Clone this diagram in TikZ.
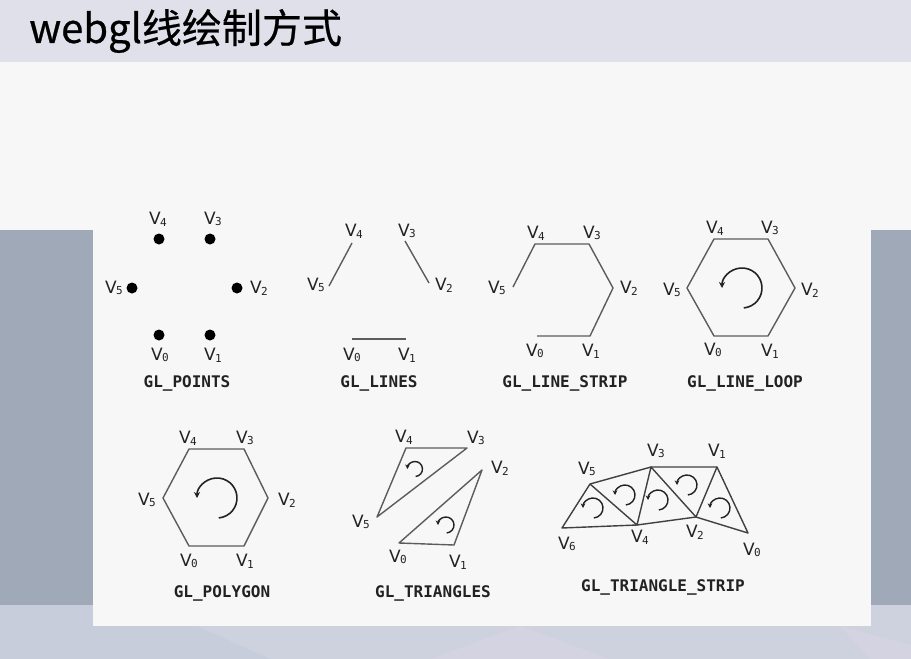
\documentclass[tikz,border=0pt]{standalone}
\usepackage{fontspec}
\setmainfont{DejaVu Sans}
\newfontfamily\cjkfont[FakeBold=0.6]{Noto Sans CJK SC}
\newfontfamily\monofont{DejaVu Sans Mono}
\usetikzlibrary{arrows.meta, positioning, calc}
\definecolor{titlebar}{HTML}{E0E0EA}
\definecolor{paper}{HTML}{F7F7F7}
\definecolor{band}{HTML}{A0A9B8}
\definecolor{floor}{HTML}{CDD2DE}
\definecolor{floordark}{HTML}{C7CDDA}
\definecolor{floorlight}{HTML}{D3D3E2}
\definecolor{edge}{HTML}{5C5C5C}
\definecolor{ink}{HTML}{222222}

\newcommand{\vtx}[1]{V\kern-0.6pt\raisebox{-1.6pt}{\monofont\fontsize{11}{11}\selectfont #1}}

\begin{document}
\begin{tikzpicture}[
    x=1pt, y=-1pt,
    vlab/.style={font=\fontsize{17}{17}\selectfont, text=ink, inner sep=0pt},
    mode/.style={font=\monofont\bfseries\fontsize{16}{16}\selectfont, text=ink, inner sep=0pt},
    wire/.style={edge, line width=1.4pt, line join=round},
    dot/.style={circle, fill=black, inner sep=0pt, minimum size=11pt},
    turn/.style={-{Stealth[length=6pt, width=6pt]}, line width=1.6pt, ink},
    turnsmall/.style={-{Stealth[length=4.5pt, width=4.5pt]}, line width=1.4pt, ink},
]
\useasboundingbox (0,0) rectangle (911,659);

% Background
\fill[floor] (0,605) rectangle (911,659);
\fill[floordark] (0,605) -- (150,605) -- (270,659) -- (0,659) -- cycle;
\fill[floorlight] (430,659) -- (520,626) -- (610,659) -- cycle;
\fill[floorlight] (840,626) -- (911,645) -- (911,659) -- (870,659) -- cycle;
\fill[band] (0,230) rectangle (911,605);
\fill[paper] (0,62) rectangle (911,230);
\fill[paper] (93,62) rectangle (871,626);
\fill[titlebar] (0,0) rectangle (911,62);

% Title
\node[anchor=west, inner sep=0pt, font=\cjkfont\fontsize{40}{40}\selectfont, text=black] (title) at (29,31) {webgl线绘制方式};

% --- GL_POINTS ---
\node[dot] (p4) at (159,239) {};
\node[dot] (p3) at (210,239) {};
\node[dot] (p5) at (132,288) {};
\node[dot] (p2) at (237,288) {};
\node[dot] (p0) at (159,335) {};
\node[dot] (p1) at (210,335) {};
\node[vlab] (p4l) at (158,219) {\vtx{4}};
\node[vlab] (p3l) at (213,219) {\vtx{3}};
\node[vlab] (p5l) at (114,288) {\vtx{5}};
\node[vlab] (p2l) at (259,288) {\vtx{2}};
\node[vlab] (p0l) at (160,355) {\vtx{0}};
\node[vlab] (p1l) at (213,355) {\vtx{1}};
\node[mode] (points) at (187,383) {GL\_POINTS};

% --- GL_LINES ---
\coordinate (n4) at (352,243);
\coordinate (n5) at (329,286);
\coordinate (n3) at (405,241);
\coordinate (n2) at (429,283);
\coordinate (n0) at (352,339);
\coordinate (n1) at (406,339);
\draw[wire] (n4) -- (n5);
\draw[wire] (n3) -- (n2);
\draw[wire] (n0) -- (n1);
\node[vlab] (n4l) at (354,231) {\vtx{4}};
\node[vlab] (n3l) at (407,231) {\vtx{3}};
\node[vlab] (n5l) at (316,285) {\vtx{5}};
\node[vlab] (n2l) at (444,285) {\vtx{2}};
\node[vlab] (n0l) at (352,355) {\vtx{0}};
\node[vlab] (n1l) at (407,355) {\vtx{1}};
\node[mode] (lines) at (379,383) {GL\_LINES};

% --- GL_LINE_STRIP ---
\coordinate (s5) at (513,287);
\coordinate (s4) at (535,244);
\coordinate (s3) at (589,244);
\coordinate (s2) at (613,288);
\coordinate (s1) at (590,336);
\coordinate (s0) at (537,336);
\draw[wire] (s5) -- (s4) -- (s3) -- (s2) -- (s1) -- (s0);
\node[vlab] (s4l) at (536,233) {\vtx{4}};
\node[vlab] (s3l) at (592,233) {\vtx{3}};
\node[vlab] (s5l) at (497,288) {\vtx{5}};
\node[vlab] (s2l) at (629,288) {\vtx{2}};
\node[vlab] (s0l) at (535,351) {\vtx{0}};
\node[vlab] (s1l) at (591,351) {\vtx{1}};
\node[mode] (strip) at (565,383) {GL\_LINE\_STRIP};

% --- GL_LINE_LOOP ---
\coordinate (l0) at (714,336);
\coordinate (l1) at (768,336);
\coordinate (l2) at (795,288);
\coordinate (l3) at (768,239);
\coordinate (l4) at (714,239);
\coordinate (l5) at (687,288);
\coordinate (lc) at (742,288);
\draw[wire] (l0) -- (l1) -- (l2) -- (l3) -- (l4) -- (l5) -- cycle;
\draw[turn] (lc) ++(85:20) arc[start angle=85, end angle=-180, radius=20];
\node[vlab] (l4l) at (715,228) {\vtx{4}};
\node[vlab] (l3l) at (770,228) {\vtx{3}};
\node[vlab] (l5l) at (672,290) {\vtx{5}};
\node[vlab] (l2l) at (810,290) {\vtx{2}};
\node[vlab] (l0l) at (713,350) {\vtx{0}};
\node[vlab] (l1l) at (770,351) {\vtx{1}};
\node[mode] (loop) at (745,383) {GL\_LINE\_LOOP};

% --- GL_POLYGON ---
\coordinate (g0) at (189,546);
\coordinate (g1) at (244,546);
\coordinate (g2) at (268,498);
\coordinate (g3) at (244,449);
\coordinate (g4) at (189,449);
\coordinate (g5) at (163,498);
\coordinate (gc) at (217,498);
\draw[wire] (g0) -- (g1) -- (g2) -- (g3) -- (g4) -- (g5) -- cycle;
\draw[turn] (gc) ++(85:20) arc[start angle=85, end angle=-180, radius=20];
\node[vlab] (g4l) at (188,438) {\vtx{4}};
\node[vlab] (g3l) at (245,438) {\vtx{3}};
\node[vlab] (g5l) at (147,500) {\vtx{5}};
\node[vlab] (g2l) at (287,500) {\vtx{2}};
\node[vlab] (g0l) at (189,561) {\vtx{0}};
\node[vlab] (g1l) at (245,561) {\vtx{1}};
\node[mode] (polygon) at (222,593) {GL\_POLYGON};

% --- GL_TRIANGLES ---
\coordinate (t4) at (406,448);
\coordinate (t3) at (467,448);
\coordinate (t5) at (377,517);
\coordinate (t2) at (482,470);
\coordinate (t1) at (454,545);
\coordinate (t0) at (399,543);
\coordinate (ta) at (415,469);
\coordinate (tb) at (446,525);
\draw[wire] (t4) -- (t3) -- (t5) -- cycle;
\draw[wire] (t0) -- (t1) -- (t2) -- cycle;
\draw[turnsmall] (ta) ++(85:7.5) arc[start angle=85, end angle=-180, radius=7.5];
\draw[turnsmall] (tb) ++(85:8) arc[start angle=85, end angle=-180, radius=8];
\node[vlab] (t4l) at (404,437) {\vtx{4}};
\node[vlab] (t3l) at (476,438) {\vtx{3}};
\node[vlab] (t2l) at (500,468) {\vtx{2}};
\node[vlab] (t5l) at (361,522) {\vtx{5}};
\node[vlab] (t0l) at (398,557) {\vtx{0}};
\node[vlab] (t1l) at (458,562) {\vtx{1}};
\node[mode] (triangles) at (433,593) {GL\_TRIANGLES};

% --- GL_TRIANGLE_STRIP ---
\coordinate (r6) at (562,528);
\coordinate (r5) at (590,484);
\coordinate (r4) at (637,525);
\coordinate (r3) at (651,467);
\coordinate (r2) at (696,517);
\coordinate (r1) at (717,467);
\coordinate (r0) at (748,533);
\draw[wire, black!75] (r6) -- (r5) -- (r3) -- (r1) -- (r0) -- (r2) -- (r4) -- cycle;
\draw[wire, black!75] (r5) -- (r4) -- (r3) -- (r2) -- (r1);
\foreach \cx/\cy in {593/508, 625/495, 658/500, 687/485, 720/508}
    \draw[turnsmall] (\cx,\cy) ++(85:10) arc[start angle=85, end angle=-180, radius=10];
\node[vlab] (r5l) at (587,469) {\vtx{5}};
\node[vlab] (r3l) at (656,451) {\vtx{3}};
\node[vlab] (r1l) at (717,451) {\vtx{1}};
\node[vlab] (r6l) at (567,544) {\vtx{6}};
\node[vlab] (r4l) at (640,537) {\vtx{4}};
\node[vlab] (r2l) at (695,532) {\vtx{2}};
\node[vlab] (r0l) at (752,550) {\vtx{0}};
\node[mode] (tristrip) at (663,587) {GL\_TRIANGLE\_STRIP};

\end{tikzpicture}
\end{document}
